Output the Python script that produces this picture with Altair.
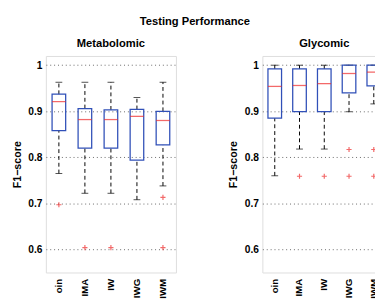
import altair as alt
import pandas as pd

# Tick labels exactly as far as they are visible in the reference
methods = ["oin", "IMA", "IW", "IWG", "IWM"]

# Metabolomic box statistics
met_lo = [0.765, 0.722, 0.722, 0.708, 0.738]
met_q1 = [0.858, 0.820, 0.820, 0.794, 0.827]
met_med = [0.921, 0.882, 0.882, 0.889, 0.880]
met_q3 = [0.937, 0.906, 0.903, 0.904, 0.900]
met_hi = [0.963, 0.963, 0.963, 0.930, 0.963]
met_out_method = ["oin", "IMA", "IW", "IWM", "IWM"]
met_out_value = [0.697, 0.604, 0.604, 0.713, 0.604]

# Glycomic box statistics
gly_lo = [0.760, 0.818, 0.818, 0.899, 0.916]
gly_q1 = [0.885, 0.899, 0.899, 0.940, 0.955]
gly_med = [0.954, 0.956, 0.960, 0.982, 0.985]
gly_q3 = [0.992, 0.992, 0.992, 1.000, 1.000]
gly_hi = [1.000, 1.000, 1.000, 1.000, 1.000]
gly_out_method = ["IMA", "IW", "IWG", "IWG", "IWM", "IWM"]
gly_out_value = [0.759, 0.759, 0.817, 0.759, 0.817, 0.759]

FONT = "Liberation Sans"
BLUE = "#3050b8"
RED = "#ee2a2a"


def panel(title, lo, q1, med, q3, hi, om, ov, w, h):
    df = pd.DataFrame({"method": methods, "lo": lo, "q1": q1, "med": med, "q3": q3, "hi": hi})
    odf = pd.DataFrame({"method": om, "value": ov})
    x = alt.X(
        "method:N", sort=methods, title=None,
        scale=alt.Scale(domain=methods, paddingInner=0, paddingOuter=0),
        axis=alt.Axis(labelAngle=270, labelFont=FONT, labelFontSize=10, labelFontWeight="bold",
                      labelColor="black", labelPadding=6, ticks=False, domain=False),
    )
    ysc = alt.Scale(domain=[0.55, 1.02], nice=False, zero=False)
    yaxis = alt.Axis(
        title="F1\u2212score", titleFont=FONT, titleFontSize=11, titleFontWeight="bold",
        titleColor="black", titlePadding=6,
        values=[0.6, 0.7, 0.8, 0.9, 1.0],
        labelExpr="datum.value == 1 ? '1' : format(datum.value, '.1f')",
        labelFont=FONT, labelFontSize=10.5, labelFontWeight="bold", labelColor="black",
        labelPadding=4, ticks=False, domain=False,
        grid=True, gridDash=[1, 3], gridColor="#666666", gridWidth=1,
    )
    base = alt.Chart(df)
    upper = base.mark_rule(color="black", strokeDash=[4, 3], strokeWidth=1).encode(
        x=x, y=alt.Y("q3:Q", scale=ysc, axis=yaxis), y2="hi:Q")
    lower = base.mark_rule(color="black", strokeDash=[4, 3], strokeWidth=1).encode(
        x=x, y=alt.Y("lo:Q", scale=ysc), y2="q1:Q")
    cap_hi = base.mark_tick(color="black", size=7, thickness=1).encode(x=x, y=alt.Y("hi:Q", scale=ysc))
    cap_lo = base.mark_tick(color="black", size=7, thickness=1).encode(x=x, y=alt.Y("lo:Q", scale=ysc))
    box = base.mark_bar(size=14, fillOpacity=0, stroke=BLUE, strokeWidth=1.3).encode(
        x=x, y=alt.Y("q1:Q", scale=ysc), y2="q3:Q")
    median = base.mark_tick(color=RED, size=14, thickness=1.3).encode(x=x, y=alt.Y("med:Q", scale=ysc))
    outl = alt.Chart(odf).mark_point(
        shape="M-1,0L1,0M0,-1L0,1", size=28, color=RED, filled=False, strokeWidth=1.2
    ).encode(x=x, y=alt.Y("value:Q", scale=ysc))
    return alt.layer(upper, lower, cap_hi, cap_lo, box, median, outl).properties(
        width=w, height=h,
        title=alt.TitleParams(title, font=FONT, fontSize=11.5, fontWeight="bold", color="black", offset=7),
    )


left = panel("Metabolomic", met_lo, met_q1, met_med, met_q3, met_hi,
             met_out_method, met_out_value, 134, 223)
right = panel("Glycomic", gly_lo, gly_q1, gly_med, gly_q3, gly_hi,
              gly_out_method, gly_out_value, 127.5, 223)

chart = alt.hconcat(left, right, spacing=51).properties(
    title=alt.TitleParams("Testing Performance", font=FONT, fontSize=11.5, fontWeight="bold",
                          color="black", anchor="middle", offset=10, dx=-4),
    padding={"left": 2, "top": 4, "right": -12, "bottom": 0},
).configure_view(stroke="black", strokeWidth=1.6).configure(background="white")

chart.save("out.html", embed_options={"renderer": "svg", "actions": False})
